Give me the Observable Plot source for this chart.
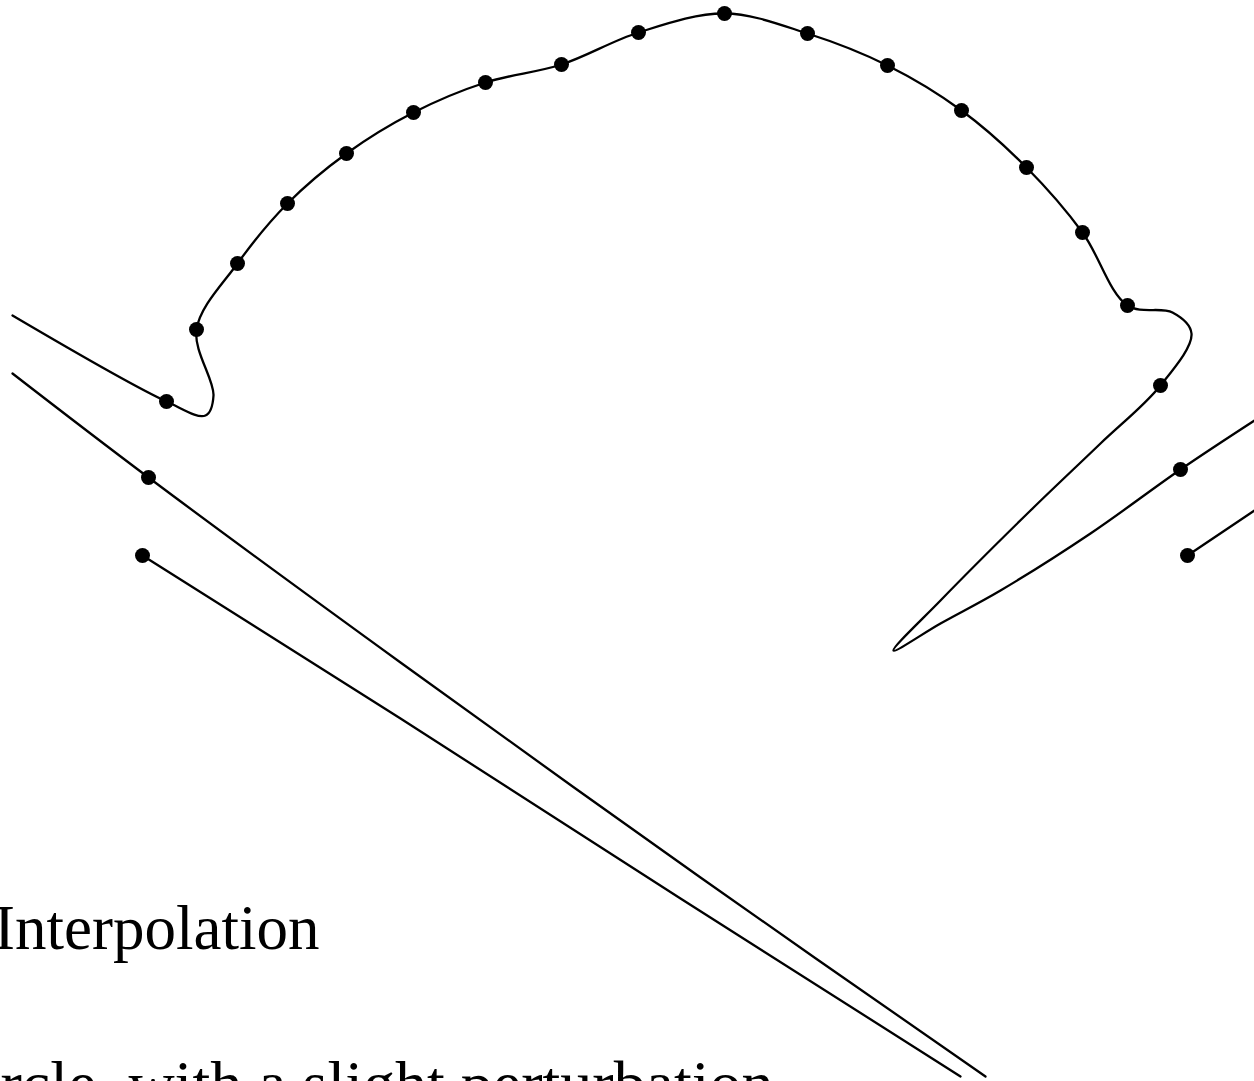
<!DOCTYPE html>
<html>
<head>
<meta charset="utf-8">
<script src="https://cdn.jsdelivr.net/npm/d3@7"></script>
<script src="https://cdn.jsdelivr.net/npm/@observablehq/plot@0.6"></script>
<style>
  html, body { margin: 0; padding: 0; background: #fff; }
  #wrap { position: relative; width: 1254px; height: 1081px; overflow: hidden; }
  #wrap svg { position: absolute; left: 0; top: 0; }
  .lbl { position: absolute; font-family: "Liberation Serif", "Times New Roman", serif; color: #000; white-space: nowrap; line-height: 1; }
</style>
</head>
<body>
<div id="wrap"></div>
<script>
const nodeX = [166, 196, 237, 287, 346, 413, 485, 561, 638, 724, 807, 887, 961, 1026, 1082, 1127, 1160, 1180, 1187, 148, 142];
const nodeY = [401, 329, 263, 203, 153, 112, 82, 64, 32, 13, 33, 65, 110, 167, 232, 305, 385, 469, 555, 477, 555];

// Interpolating curve (main branch)
const mainX = [12, 166, 205, 213, 196, 237, 287, 346, 413, 485, 561, 638, 724, 807, 887, 961, 1026, 1082, 1127, 1172, 1191, 1160, 1100, 1030, 940, 893, 940, 1000, 1090, 1180, 1254];
const mainY = [315, 401, 415, 395, 329, 263, 203, 153, 112, 82, 64, 32, 13, 33, 65, 110, 167, 232, 305, 312, 333, 385, 443, 510, 600, 650, 623, 590, 533, 469, 420];

// Other branches
const branch2X = [12, 148, 400, 700, 985];
const branch2Y = [373, 477, 662, 877, 1076];
const branch3X = [142, 400, 680, 960];
const branch3Y = [555, 718, 898, 1076];
const branch4X = [1187, 1254];
const branch4Y = [555, 510];

const title = "Interpolation";
const subtitle = "Circle, with a slight perturbation";

const nodes = nodeX.map((x, i) => ({x, y: nodeY[i]}));
const mk = (xs, ys, id) => xs.map((x, i) => ({x, y: ys[i], id}));
const main = mk(mainX, mainY, "main");
const b2 = mk(branch2X, branch2Y, "b2");
const b3 = mk(branch3X, branch3Y, "b3");
const b4 = mk(branch4X, branch4Y, "b4");

const sw = 2.3;
const chart = Plot.plot({
  width: 1254,
  height: 1081,
  margin: 0,
  x: {domain: [0, 1254], axis: null},
  y: {domain: [0, 1081], reverse: true, axis: null},
  style: {background: "#fff"},
  marks: [
    Plot.line(main, {x: "x", y: "y", curve: "catmull-rom", stroke: "#000", strokeWidth: sw, clip: true}),
    Plot.line(b2, {x: "x", y: "y", curve: "catmull-rom", stroke: "#000", strokeWidth: sw, clip: true}),
    Plot.line(b3, {x: "x", y: "y", curve: "linear", stroke: "#000", strokeWidth: sw, clip: true}),
    Plot.line(b4, {x: "x", y: "y", curve: "linear", stroke: "#000", strokeWidth: sw, clip: true}),
    Plot.dot(nodes, {x: "x", y: "y", r: 7.5, fill: "#000", stroke: "none"})
  ]
});

const wrap = document.getElementById("wrap");
wrap.appendChild(chart);

const t1 = document.createElement("div");
t1.className = "lbl";
t1.textContent = title;
t1.style.fontSize = "63px";
t1.style.left = "-6px";
t1.style.top = "897px";
wrap.appendChild(t1);

const t2 = document.createElement("div");
t2.className = "lbl";
t2.textContent = subtitle;
t2.style.fontSize = "64px";
t2.style.left = "-60px";
t2.style.top = "1052px";
wrap.appendChild(t2);
</script>
</body>
</html>
